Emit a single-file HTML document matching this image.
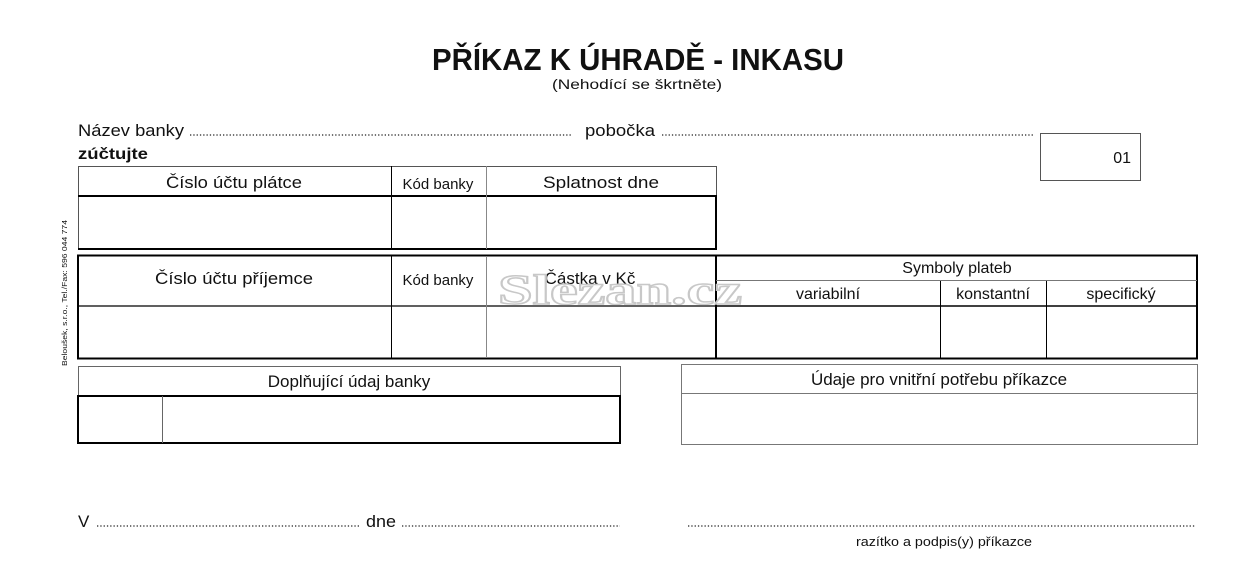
<!DOCTYPE html>
<html><head><meta charset="utf-8"><style>
html,body{margin:0;padding:0;background:#fff;}
svg{display:block;}
text{font-family:"Liberation Sans",Arial,sans-serif;fill:#111;}
</style></head><body>
<svg width="1240" height="585" viewBox="0 0 1240 585" xmlns="http://www.w3.org/2000/svg">
<text x="638" y="70" text-anchor="middle" font-size="31" font-weight="bold" textLength="412" lengthAdjust="spacingAndGlyphs">PŘÍKAZ K ÚHRADĚ - INKASU</text>
<text x="637" y="89" text-anchor="middle" font-size="14" textLength="170" lengthAdjust="spacingAndGlyphs">(Nehodící se škrtněte)</text>

<text x="78" y="136" font-size="17" textLength="106" lengthAdjust="spacingAndGlyphs">Název banky</text>
<line x1="190" y1="135" x2="572" y2="135" stroke="#222" stroke-width="1.3" stroke-dasharray="1.3 2"/>
<text x="585" y="136" font-size="17" textLength="70" lengthAdjust="spacingAndGlyphs">pobočka</text>
<line x1="662" y1="135" x2="1033" y2="135" stroke="#222" stroke-width="1.3" stroke-dasharray="1.3 2"/>
<text x="78" y="159" font-size="16" font-weight="bold" textLength="70" lengthAdjust="spacingAndGlyphs">zúčtujte</text>

<rect x="1040.5" y="133.5" width="100" height="47" fill="none" stroke="#555" stroke-width="1"/>
<text x="1131" y="163" font-size="16" text-anchor="end">01</text>

<text transform="translate(67,366) rotate(-90)" font-size="7.5" textLength="146" lengthAdjust="spacingAndGlyphs">Beloušek, s.r.o., Tel./Fax: 596 044 774</text>

<rect x="78.5" y="166.5" width="638" height="83" fill="none" stroke="#555" stroke-width="1"/>
<line x1="78" y1="196" x2="717" y2="196" stroke="#000" stroke-width="2"/>
<line x1="78" y1="249" x2="717" y2="249" stroke="#000" stroke-width="2"/>
<line x1="716" y1="195" x2="716" y2="250" stroke="#000" stroke-width="2"/>
<line x1="391.5" y1="166" x2="391.5" y2="249" stroke="#000" stroke-width="1"/>
<line x1="486.5" y1="166" x2="486.5" y2="249" stroke="#888" stroke-width="1"/>
<text x="234" y="188" font-size="17" text-anchor="middle" textLength="136" lengthAdjust="spacingAndGlyphs">Číslo účtu plátce</text>
<text x="438" y="189" font-size="15" text-anchor="middle">Kód banky</text>
<text x="601" y="188" font-size="17" text-anchor="middle" textLength="116" lengthAdjust="spacingAndGlyphs">Splatnost dne</text>

<rect x="78" y="255.5" width="1119" height="103" fill="none" stroke="#000" stroke-width="2"/>
<line x1="78" y1="306" x2="716" y2="306" stroke="#000" stroke-width="1.3"/>
<line x1="391.5" y1="256" x2="391.5" y2="358" stroke="#000" stroke-width="1"/>
<line x1="486.5" y1="256" x2="486.5" y2="358" stroke="#888" stroke-width="1"/>
<line x1="716" y1="255" x2="716" y2="359" stroke="#000" stroke-width="2"/>
<line x1="716" y1="280.5" x2="1197" y2="280.5" stroke="#777" stroke-width="1"/>
<line x1="716" y1="306" x2="1197" y2="306" stroke="#000" stroke-width="1.5"/>
<line x1="940.5" y1="281" x2="940.5" y2="358" stroke="#000" stroke-width="1"/>
<line x1="1046.5" y1="281" x2="1046.5" y2="358" stroke="#000" stroke-width="1"/>
<text x="234" y="284" font-size="17" text-anchor="middle" textLength="158" lengthAdjust="spacingAndGlyphs">Číslo účtu příjemce</text>
<text x="438" y="285" font-size="15" text-anchor="middle">Kód banky</text>
<text x="590" y="284" font-size="17" text-anchor="middle">Částka v Kč</text>
<text x="957" y="273" font-size="16" text-anchor="middle">Symboly plateb</text>
<text x="828" y="299" font-size="16" text-anchor="middle">variabilní</text>
<text x="993" y="299" font-size="16" text-anchor="middle">konstantní</text>
<text x="1121" y="299" font-size="16" text-anchor="middle">specifický</text>

<text x="620" y="304" font-size="42" text-anchor="middle" style="font-family:'Liberation Serif',serif;font-weight:bold;fill:#fff;stroke:#c8c8c8;stroke-width:1.5;fill-opacity:0.6" textLength="244" lengthAdjust="spacingAndGlyphs">Slezan.cz</text>

<rect x="78.5" y="366.5" width="542" height="77" fill="none" stroke="#666" stroke-width="1"/>
<line x1="78" y1="396" x2="621" y2="396" stroke="#000" stroke-width="2"/>
<line x1="78" y1="443" x2="621" y2="443" stroke="#000" stroke-width="2"/>
<line x1="78" y1="395" x2="78" y2="444" stroke="#000" stroke-width="2"/>
<line x1="620" y1="395" x2="620" y2="444" stroke="#000" stroke-width="2"/>
<line x1="162.5" y1="396" x2="162.5" y2="443" stroke="#666" stroke-width="1"/>
<text x="349" y="387" font-size="17" text-anchor="middle">Doplňující údaj banky</text>

<rect x="681.5" y="364.5" width="516" height="80" fill="none" stroke="#777" stroke-width="1"/>
<line x1="681" y1="393.5" x2="1198" y2="393.5" stroke="#777" stroke-width="1"/>
<text x="939" y="385" font-size="17" text-anchor="middle">Údaje pro vnitřní potřebu příkazce</text>

<text x="78" y="527" font-size="17">V</text>
<line x1="97" y1="526" x2="360" y2="526" stroke="#222" stroke-width="1.3" stroke-dasharray="1.3 2"/>
<text x="366" y="527" font-size="17" textLength="30" lengthAdjust="spacingAndGlyphs">dne</text>
<line x1="402" y1="526" x2="620" y2="526" stroke="#222" stroke-width="1.3" stroke-dasharray="1.3 2"/>
<line x1="688" y1="526" x2="1195" y2="526" stroke="#222" stroke-width="1.3" stroke-dasharray="1.3 2"/>
<text x="944" y="546" font-size="12.5" text-anchor="middle" textLength="176" lengthAdjust="spacingAndGlyphs">razítko a podpis(y) příkazce</text>
</svg>
</body></html>
